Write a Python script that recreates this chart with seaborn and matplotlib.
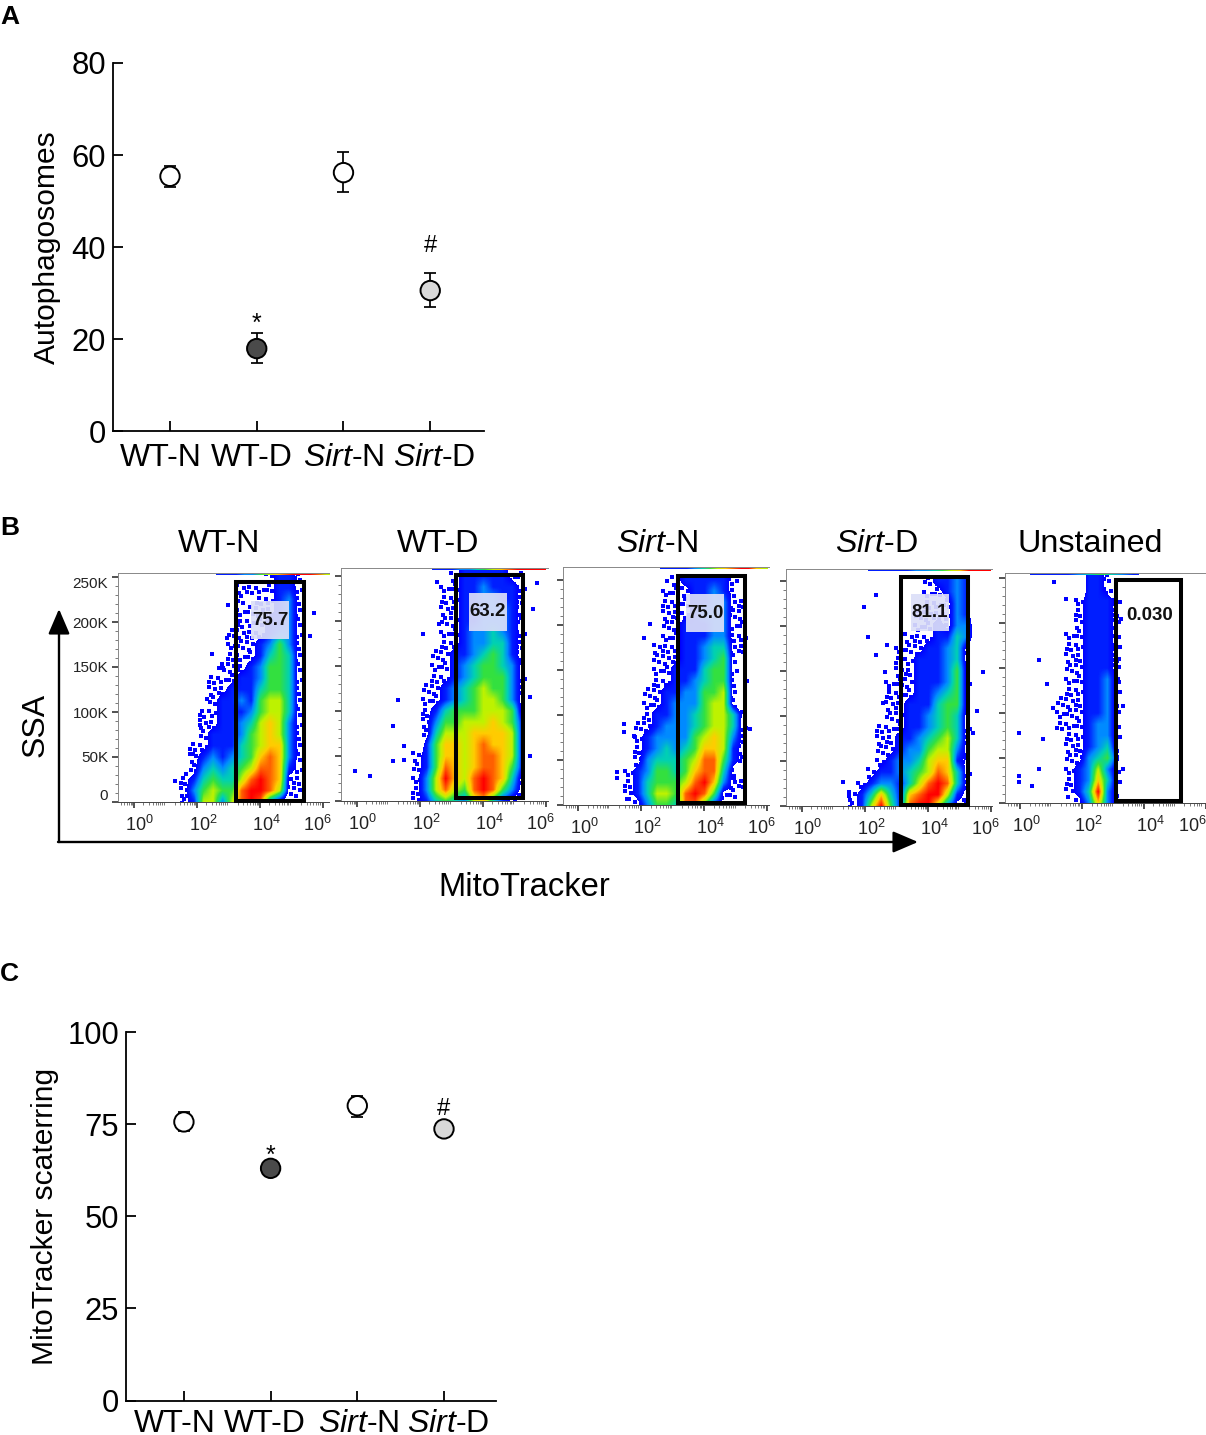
import numpy as np
import pandas as pd
import matplotlib
matplotlib.use("Agg")
import matplotlib.pyplot as plt
from matplotlib.colors import LinearSegmentedColormap
from matplotlib.patches import Rectangle, FancyArrowPatch
from matplotlib.transforms import ScaledTranslation
import seaborn as sns

sns.set_style("ticks")
plt.rcParams["font.family"] = ["Liberation Sans", "DejaVu Sans"]
plt.rcParams["mathtext.fontset"] = "custom"
plt.rcParams["mathtext.rm"] = "Liberation Sans"
plt.rcParams["mathtext.it"] = "Liberation Sans:italic"
plt.rcParams["text.color"] = "black"
plt.rcParams["axes.labelcolor"] = "black"
plt.rcParams["xtick.color"] = "black"
plt.rcParams["ytick.color"] = "black"
plt.rcParams["axes.edgecolor"] = "black"

W, H = 1206, 1435
groups = ["WT-N", "WT-D", r"$\mathit{Sirt}$-N", r"$\mathit{Sirt}$-D"]
fills = ["#ffffff", "#4a4a4a", "#ffffff", "#d9d9d9"]

auto_mean = [55.4, 18.0, 56.2, 30.6]
auto_low = [53.0, 14.8, 52.0, 27.0]
auto_high = [57.7, 21.3, 60.6, 34.5]

mito_mean = [75.6, 63.0, 80.0, 73.7]
mito_low = [73.0, 61.8, 77.0, 72.6]
mito_high = [78.2, 64.0, 82.6, 74.8]

flow_titles = ["WT-N", "WT-D", r"$\mathit{Sirt}$-N", r"$\mathit{Sirt}$-D", "Unstained"]
gate_values = ["75.7", "63.2", "75.0", "81.1", "0.030"]
k_ticks = [0, 50, 100, 150, 200, 250]
k_labels = ["0", "50K", "100K", "150K", "200K", "250K"]
decades = [0, 2, 4, 6]

# density level (0 empty, 1 sparse events, 2..9 dense); rows 250K down to 0 in 12.5K steps,
# columns 10^1 .. 10^5.5
dens_wtn = [
    "0000000000012210", "0000000011112210", "0000000010112310", "0000000011112310",
    "0000000011122310", "0000000111123310", "0000000111235310", "0000000111245410",
    "0000001112355410", "0000011122355410", "0000011222455410", "0000012232566410",
    "0000112223566410", "0000112234676310", "0000122235676310", "0001122245677310",
    "0001232345787310", "0001343456887210", "0012454468987110", "0013565589986110",
    "0012663689831000",
]
dens_wtd = [
    "0000000122222110", "0000001122322210", "0000001122332210", "0000001122333210",
    "0000001122333210", "0000001123343210", "0000001123344210", "0000011223454210",
    "0000011234554310", "0000011234555310", "0000112345655310", "0000112345665310",
    "0000124555666510", "0000135566676520", "0000146667777620", "0000257767877620",
    "0001257767887620", "0001258767887520", "0001369768987410", "0001368658985310",
    "0001245436742100",
]
dens_sirtn = [
    "0000000122222100", "0000001112232100", "0000001112233110", "0000001112333110",
    "0000001122233110", "0000001122233110", "0000011122344110", "0000011122345100",
    "0000011222455100", "0000011223455100", "0000112233556100", "0000112333566100",
    "0000122334566410", "0001123334566410", "0001233335676310", "0001234345776210",
    "0001344456885210", "0012355457884100", "0012455568973110", "0012466589851100",
    "0001355488521100",
]
dens_sirtd = [
    "0000000000122320", "0000000000112320", "0000000000111320", "0000000001111320",
    "0000000001121330", "0000000011122430", "0000000111223410", "0000000112223410",
    "0000000112223510", "0000001112223510", "0000001112234510", "0000001122245510",
    "0000001122345410", "0000011122345410", "0000011223456410", "0000011233566310",
    "0000012334677210", "0000122345687410", "0001233246898410", "0012474278996210",
    "0012695289963110",
]
dens_unst = [
    "0000221000000000", "0000221000000000", "0001222100000000", "0001222100000000",
    "0001222100000000", "0011222100000000", "0011222100000000", "0011222100000000",
    "0011222100000000", "0011223100000000", "0011223100000000", "0111223100000000",
    "0111223100000000", "0111233100000000", "0011233100000000", "0011234100000000",
    "0011345200000000", "0012363100000000", "0012374100000000", "0012493100000000",
    "0001373100000000",
]
densities = [dens_wtn, dens_wtd, dens_sirtn, dens_sirtd, dens_unst]

# stray events: log10 intensity, SSA in thousands
stray_x = [
    [1.3, 1.65, 1.7, 1.87, 2.48, 2.32, 3.0, 2.95, 5.7, 5.6, 2.83, 2.1],
    [-0.06, 0.42, 1.14, 1.5, 1.14, 1.3, 1.49, 2.1, 2.55, 2.6, 5.7, 5.6, 5.5, 5.5],
    [1.22, 1.22, 1.45, 1.45, 1.76, 1.6, 2.08, 2.27, 5.44, 5.35, 4.93, 2.81],
    [1.97, 2.35, 2.1, 1.3, 1.5, 2.35, 2.63, 2.76, 2.57, 5.75, 5.55, 5.44, 2.7],
    [-0.06, -0.06, -0.06, 0.38, 0.73, 0.6, 0.6, 0.86, 1.04, 1.1, 1.46, 3.3, 3.3, 3.2, 3.17, 3.25],
]
stray_k = [
    [23, 31, 7, 53, 164, 114, 219, 182, 210, 184, 149, 86],
    [33, 28, 45, 46, 83, 112, 61, 186, 243, 197, 242, 213, 116, 50],
    [37, 30, 90, 81, 77, 7, 186, 201, 85, 138, 30, 249],
    [221, 234, 188, 27, 11, 168, 149, 131, 114, 149, 105, 81, 179],
    [78, 30, 23, 19, 71, 38, 159, 132, 106, 246, 227, 108, 38, 160, 138, 204],
]

gate_left = [3.24, 3.14, 3.16, 3.14, 3.10]
gate_right = [5.40, 5.27, 5.29, 5.27, 5.20]
gate_low = [1, 3, 2, 1, 2]
gate_high = [245, 251, 255, 254, 248]
label_x = [4.32, 4.16, 4.02, 4.06, 4.18]
label_k = [202, 210, 213, 215, 208]

saturated = ["11122456789875", "11122345678998", "11112345678965", "11111223456998", "1111234321"]
saturated_from = [2.6, 2.4, 2.6, 2.1, 0.3]
saturated_to = [6.2, 6.0, 6.0, 6.0, 3.8]

# halftone used for sparse cells: dot offsets inside a cell, as fractions of its width and height
halftones = [
    [(0.15, 0.20), (0.62, 0.10), (0.38, 0.62)],
    [(0.40, 0.15), (0.90, 0.38), (0.12, 0.55)],
    [(0.75, 0.22), (0.22, 0.38), (0.50, 0.80)],
    [(0.30, 0.05), (0.78, 0.55), (0.12, 0.75)],
]

levels = [1.4, 2.0, 3.0, 4.0, 5.0, 6.0, 7.0, 8.0, 9.0]
level_colors = [(0.00, 0.00, 1.00), (0.00, 0.12, 1.00), (0.00, 0.55, 1.00), (0.00, 0.82, 0.70),
                (0.20, 0.88, 0.25), (0.75, 0.95, 0.00), (1.00, 0.80, 0.00), (1.00, 0.38, 0.00),
                (1.00, 0.00, 0.00)]
flow_cmap = LinearSegmentedColormap.from_list(
    "flow", [((v - 1.4) / 7.6, c) for v, c in zip(levels, level_colors)])
flow_cmap.set_under((1, 1, 1, 0))


def axes_px(fig, x0, y0, x1, y1):
    return fig.add_axes([x0 / W, 1 - y1 / H, (x1 - x0) / W, (y1 - y0) / H])


def text_px(fig, x, y, s, **kw):
    fig.text(x / W, 1 - y / H, s, **kw)


def shift_px(label, dx, dy, fig):
    label.set_transform(label.get_transform() + ScaledTranslation(dx / 100, dy / 100, fig.dpi_scale_trans))


def point_panel(ax, means, lows, highs, ymax, yticks, xlim, ylabel, star, hash_, shifts, labelpad, xpad):
    frame = pd.DataFrame({"pos": range(4), "value": means, "group": groups})
    for i in range(4):
        ax.errorbar(i, means[i], yerr=[[means[i] - lows[i]], [highs[i] - means[i]]],
                    color="black", lw=1.25, capsize=4, capthick=1.25, zorder=2)
    sns.scatterplot(data=frame, x="pos", y="value", hue="group", palette=dict(zip(groups, fills)),
                    s=195, edgecolor="black", linewidth=1.4, legend=False, ax=ax, zorder=3, clip_on=False)
    ax.set_xlim(*xlim)
    ax.set_ylim(0, ymax)
    ax.set_yticks(yticks)
    ax.set_xticks(range(4))
    ax.set_xticklabels(groups)
    ax.tick_params(axis="both", direction="in", length=7.5, width=1.3, labelsize=22.3, pad=5)
    ax.tick_params(axis="x", pad=xpad, labelsize=23)
    ax.set_xlabel("")
    ax.set_ylabel(ylabel, fontsize=21.6, labelpad=labelpad)
    for s in ("top", "right"):
        ax.spines[s].set_visible(False)
    for s in ("left", "bottom"):
        ax.spines[s].set_linewidth(1.3)
    ax.text(1, star, "*", ha="center", va="center", fontsize=18)
    ax.text(3, hash_, "#", ha="center", va="center", fontsize=17)
    for lab, dx in zip(ax.get_xticklabels(), shifts):
        shift_px(lab, dx, 0, ax.figure)


fig = plt.figure(figsize=(W / 100, H / 100), dpi=100)

ax_a = axes_px(fig, 113, 63, 484, 431.5)
point_panel(ax_a, auto_mean, auto_low, auto_high, 80, [0, 20, 40, 60, 80],
            (-0.657, 3.62), "Autophagosomes", 23.4, 40.2, [-9, -5, 0, 4], 7.5, 8.5)

ax_c = axes_px(fig, 126, 1032, 496, 1400.5)
point_panel(ax_c, mito_mean, mito_low, mito_high, 100, [0, 25, 50, 75, 100],
            (-0.668, 3.6), "MitoTracker scaterring", 66.4, 79, [-9, -6, 1, 4], 6, 6)

panels_px = [(118, 573, 329, 802), (341, 568, 548, 801), (562.5, 567, 769, 805),
             (786, 569, 992, 806), (1005, 573, 1206, 803)]
title_px = [219, 438, 657, 876, 1090]

for i, (x0, y0, x1, y1) in enumerate(panels_px):
    ax = axes_px(fig, x0, y0, x1, y1)
    xlim = (-0.5, (x1 - x0 - 16) / 31.5)
    ylim = (0, (y1 - y0) / 0.9)
    grid = np.array([[int(c) for c in row.ljust(16, "0")[:16]] for row in densities[i]], float)

    dot_x, dot_k = [], []
    for r, c in zip(*np.nonzero(grid == 1)):
        left = 0.85 + 0.3 * c
        low = 250 - 12.5 * r - 6.25
        for fx, fy in halftones[(3 * r + 5 * c) % 4]:
            dot_x.append(left + 0.3 * fx)
            dot_k.append(low + 12.5 * fy)
    sns.scatterplot(x=dot_x, y=dot_k, marker="s", s=6, color="#0000ff", linewidth=0,
                    ax=ax, zorder=1, legend=False)
    ax.imshow(grid, extent=(0.85, 5.65, -6.25, 256.25), cmap=flow_cmap,
              vmin=1.4, vmax=9, interpolation="bilinear", aspect="auto", origin="upper", zorder=1.5)
    strip = np.array([[int(c) + 1 for c in saturated[i]]], float)
    ax.imshow(strip, extent=(saturated_from[i], saturated_to[i], ylim[1] - 2.6, ylim[1]),
              cmap=flow_cmap, vmin=1.4, vmax=9, interpolation="bilinear", aspect="auto", zorder=2)
    sns.scatterplot(x=stray_x[i], y=stray_k[i], marker="s", s=6, color="#0000ff",
                    linewidth=0, ax=ax, zorder=2, legend=False)
    ax.set_xlim(*xlim)
    ax.set_ylim(*ylim)

    if i < 4:
        ax.add_patch(Rectangle((label_x[i] - 0.6, label_k[i] - 21), 1.2, 42,
                               facecolor="#dcdff8", edgecolor="none", alpha=0.92, zorder=3))
    ax.text(label_x[i], label_k[i], gate_values[i], ha="center", va="center",
            fontsize=13.5, fontweight="bold", color="#111111", zorder=5)
    ax.add_patch(Rectangle((gate_left[i], gate_low[i]), gate_right[i] - gate_left[i],
                           gate_high[i] - gate_low[i], facecolor="none", edgecolor="black",
                           lw=2.9, zorder=4, clip_on=False))

    ax.set_xticks(decades)
    ax.set_xticklabels([rf"$\mathregular{{10^{{{d}}}}}$" for d in decades])
    minor = [d + np.log10(m) for d in range(-1, 7) for m in range(2, 10)]
    ax.set_xticks([m for m in minor if xlim[0] < m < xlim[1]], minor=True)
    ax.set_yticks(k_ticks)
    ax.set_yticklabels(k_labels if i == 0 else [])
    ax.set_yticks(np.arange(0, 250, 10), minor=True)
    ax.tick_params(axis="both", which="major", direction="out", length=4, width=1.1,
                   labelsize=11, color="#222222", labelcolor="#222222", pad=3)
    ax.tick_params(axis="x", which="major", labelsize=13, pad=5)
    ax.tick_params(axis="both", which="minor", direction="out", length=2, width=0.5, color="#444444")
    ax.spines["right"].set_visible(False)
    for s in ("top", "left"):
        ax.spines[s].set_color("#888888")
        ax.spines[s].set_linewidth(0.7)
    ax.spines["bottom"].set_color("#444444")
    ax.spines["bottom"].set_linewidth(0.7)
    for lab, dx in zip(ax.get_xticklabels(), [6, 6, 6, -14 if i == 4 else -6]):
        shift_px(lab, dx, 0, fig)
    if i == 0:
        for lab, dy in zip(ax.get_yticklabels(), [7, 0, 0, 0, 0, -5]):
            shift_px(lab, 0, dy, fig)
    text_px(fig, title_px[i], 544, flow_titles[i], ha="center", va="center", fontsize=23.2)

arrow = dict(arrowstyle="-|>,head_length=0.7,head_width=0.3", color="black", lw=1.7,
             shrinkA=0, shrinkB=0, mutation_scale=22)
fig.add_artist(FancyArrowPatch((59 / W, 1 - 842 / H), (59 / W, 1 - 609 / H),
                               transform=fig.transFigure, **arrow))
fig.add_artist(FancyArrowPatch((58 / W, 1 - 842 / H), (918 / W, 1 - 842 / H),
                               transform=fig.transFigure, **arrow))
text_px(fig, 36, 725, "SSA", rotation=90, ha="center", va="center", fontsize=23)
text_px(fig, 524, 888, "MitoTracker", ha="center", va="center", fontsize=23.6)

text_px(fig, 0, 17, "A", ha="left", va="center", fontsize=19, fontweight="bold")
text_px(fig, 0, 528, "B", ha="left", va="center", fontsize=19, fontweight="bold")
text_px(fig, 0, 974, "C", ha="left", va="center", fontsize=19, fontweight="bold")

fig.savefig("out.png", dpi=100, facecolor="white")
